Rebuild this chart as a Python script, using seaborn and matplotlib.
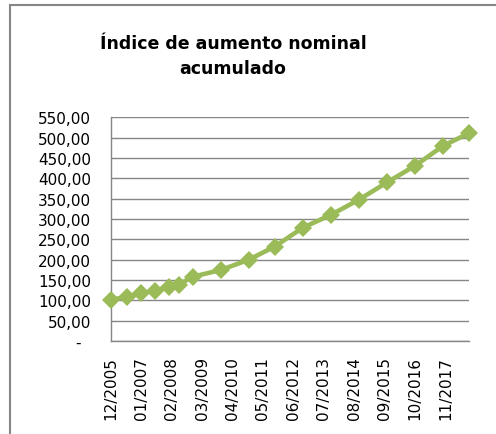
import matplotlib
matplotlib.use("Agg")
import pandas as pd
import matplotlib.pyplot as plt
import seaborn as sns
from matplotlib.patches import Rectangle

# datos (fecha MM/AAAA, indice acumulado)
fechas = ["12/2005", "07/2006", "01/2007", "07/2007", "01/2008", "05/2008",
          "11/2008", "11/2009", "11/2010", "10/2011", "10/2012", "10/2013",
          "10/2014", "10/2015", "10/2016", "10/2017", "09/2018"]
indice = [101, 109, 117, 124, 132, 138.5, 158, 174.5, 200, 232, 278.5,
          310, 347.5, 390, 431, 480, 511]

xtick_labels = ["12/2005", "01/2007", "02/2008", "03/2009", "04/2010", "05/2011",
                "06/2012", "07/2013", "08/2014", "09/2015", "10/2016", "11/2017"]
ytick_values = [0, 50, 100, 150, 200, 250, 300, 350, 400, 450, 500, 550]
ytick_labels = ["-", "50,00", "100,00", "150,00", "200,00", "250,00", "300,00",
                "350,00", "400,00", "450,00", "500,00", "550,00"]

titulo = "Índice de aumento nominal\nacumulado"


def meses(f):
    # meses desde 12/2005 (eje de fechas como en Excel)
    m, a = f.split("/")
    return (int(a) - 2005) * 12 + int(m) - 12


sns.set_style("white")
plt.rcParams["font.family"] = ["DejaVu Sans"]
plt.rcParams["text.color"] = "black"

df = pd.DataFrame({"mes": [meses(f) for f in fechas], "indice": indice})

gris = "#868686"
verde = "#9BBB59"

fig = plt.figure(figsize=(4.96, 4.35), dpi=100)
ax = fig.add_axes([0.2232, 0.2138, 0.7224, 0.5143])

sns.lineplot(data=df, x="mes", y="indice", ax=ax, color=verde, lw=3.3,
             marker="D", markersize=9, markeredgewidth=0, clip_on=False,
             zorder=3)

ax.set_xlim(0, meses("09/2018"))
ax.set_ylim(0, 550)
ax.set_xticks([meses(f) for f in xtick_labels])
ax.set_xticklabels(xtick_labels, rotation=90, fontsize=11)
ax.set_yticks(ytick_values)
# formato contable de Excel: el guion queda algo a la izquierda
ax.set_yticklabels([l + "\u2007" if l == "-" else l for l in ytick_labels],
                   fontsize=11)
ax.set_xlabel("")
ax.set_ylabel("")

ax.yaxis.grid(True, color=gris, lw=1)
ax.xaxis.grid(False)
for s in ["top", "right"]:
    ax.spines[s].set_visible(False)
for s in ["left", "bottom"]:
    ax.spines[s].set_color(gris)
    ax.spines[s].set_linewidth(1)
ax.tick_params(axis="both", direction="out", length=4, width=1,
               color=gris, labelcolor="black")
ax.tick_params(axis="x", pad=7)
ax.tick_params(axis="y", pad=10)

fig.text(0.47, 0.87, titulo, ha="center", va="center", fontsize=12.5,
         fontweight="bold", linespacing=1.5, color="black")

fig.patches.append(Rectangle((0.0202, -0.05), 1.0, 1.036, transform=fig.transFigure,
                             fill=False, edgecolor=gris, lw=1.5))

fig.savefig("out.png", dpi=100)
